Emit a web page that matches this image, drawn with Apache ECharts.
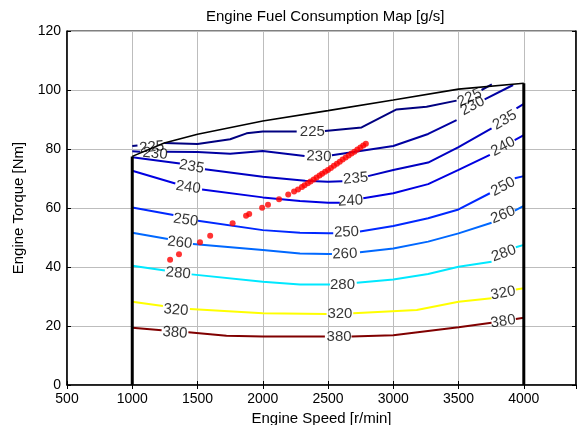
<!DOCTYPE html>
<html lang="en">
<head>
    <meta charset="UTF-8">
    <title>Engine Fuel Consumption Map</title>
    <script src="https://cdn.jsdelivr.net/npm/echarts@6/dist/echarts.min.js"></script>
</head>
<body style="margin:0">
<div id="mybox" style="width:579px;height:425px;"></div>
<script>
    // speed ticks and torque ticks
    var speedTicks = [500, 1000, 1500, 2000, 2500, 3000, 3500, 4000];
    var torqueTicks = [0, 20, 40, 60, 80, 100, 120];

    // contour levels and their jet colours
    var levels = [225, 230, 235, 240, 250, 260, 280, 320, 380];
    var levelColors = ['#000080', '#0000a1', '#0000c2', '#0000e2', '#0028ff', '#0068ff', '#00e8ff', '#ffff00', '#800000'];

    // contour lines, [speed, torque], null = gap where the label sits
    var c225 = [[1000, 81], [1040, 81.2], null, [1245, 82], [1500, 81.7], [1750, 83.3], [1876, 85.3], [2000, 85.9], [2260, 85.9], null,
        [2476, 86.1], [2757, 87.3], [3025, 93.4], [3255, 94.3], [3485, 96.4], null, [3676, 100], [3755, 101.9]];
    var c230 = [[1000, 79.2], [1060, 79.1], null, [1265, 79.1], [1500, 79], [1750, 78.4], [2000, 79.3], [2320, 77.6], null,
        [2530, 77.9], [3000, 81], [3267, 85.1], [3485, 89.8], null, [3700, 96.8], [3918, 101.7]];
    var c235 = [[1000, 77.2], [1365, 75.1], null, [1557, 73.1], [2000, 70.6], [2325, 69.2], [2500, 68.9], [2610, 69.1], null,
        [2807, 70.8], [3000, 72.9], [3267, 75.4], [3500, 80.6], [3753, 87], null, [3944, 93.8], [4000, 95.3]];
    var c240 = [[1000, 72.6], [1330, 68.3], null, [1535, 66.3], [2000, 63.6], [2285, 62.4], [2500, 61.8], [2590, 61.8], null,
        [2770, 63.3], [3000, 65], [3267, 68.1], [3500, 72.9], [3740, 78], null, [3930, 83], [4000, 84.7]];
    var c250 = [[1000, 60.2], [1315, 57.6], null, [1503, 55.7], [2000, 52.5], [2285, 51.6], [2500, 51.4], [2540, 51.4], null,
        [2745, 52], [3000, 53.9], [3267, 56.5], [3500, 59.5], [3740, 65], null, [3931, 70.1], [4000, 70.8]];
    var c260 = [[1000, 51.6], [1273, 49.5], null, [1465, 47.8], [2000, 45.8], [2285, 44.6], [2500, 44.4], [2530, 44.4], null,
        [2745, 45], [3000, 46.3], [3267, 48.6], [3500, 51.4], [3753, 55], null, [3931, 59.1], [4000, 60.7]];
    var c280 = [[1000, 40.4], [1250, 38.8], null, [1455, 37.5], [2000, 35], [2285, 34.1], [2515, 34.1], null,
        [2720, 34.7], [3000, 35.8], [3267, 37.6], [3500, 40.1], [3753, 41.8], null, [3939, 46.7], [4000, 47.5]];
    var c320 = [[1000, 28.2], [1235, 26.8], null, [1442, 25.8], [2000, 24.3], [2489, 24.1], null,
        [2693, 24.3], [3180, 25.4], [3500, 28.2], [3753, 29.4], null, [3939, 32.4], [4000, 32.8]];
    var c380 = [[1000, 19.4], [1225, 18.6], null, [1430, 17.9], [1722, 16.7], [2000, 16.4], [2476, 16.4], null,
        [2680, 16.4], [3000, 16.9], [3500, 19.6], [3753, 21.1], null, [3939, 22.4], [4000, 22.8]];
    var contours = [c225, c230, c235, c240, c250, c260, c280, c320, c380];

    // inline labels: [speed, torque, level, angle]
    var contourLabels = [
        [1150, 80.6, 225, 5], [2380, 85.9, 225, 0], [3585, 97.4, 225, 25],
        [1175, 78.4, 230, -5], [2430, 77.4, 230, -2], [3607, 94.6, 230, 28],
        [1455, 74, 235, -10], [2712, 70, 235, 5], [3854, 89.8, 235, 30],
        [1429, 67, 240, -8], [2673, 62.4, 240, 3], [3842, 80.8, 240, 28],
        [1409, 55.9, 250, -8], [2642, 51.8, 250, 2], [3842, 67.2, 250, 28],
        [1365, 48.2, 260, -6], [2629, 44.4, 260, 2], [3842, 57.6, 260, 22],
        [1352, 37.9, 280, -5], [2611, 33.9, 280, 0], [3847, 44.6, 280, 20],
        [1335, 25.4, 320, -4], [2591, 24.1, 320, 0], [3842, 31.1, 320, 10],
        [1327, 17.7, 380, -4], [2585, 16.4, 380, 0], [3842, 21.5, 380, 8]
    ];

    // max torque curve and speed limits
    var maxTorque = [[1000, 77.5], [1245, 82], [1500, 85], [2000, 89.5], [2500, 93], [3000, 96.6], [3500, 100.3], [4000, 102.3]];
    var lowLimit = [[1000, 0], [1000, 77.5]];
    var highLimit = [[4000, 0], [4000, 102.3]];

    // operating points
    var points = [[1290, 42.5], [1358, 44.3], [1519, 48.4], [1597, 50.6], [1769, 54.8], [1872, 57.4], [1896, 58], [1995, 60.1],
        [2040, 61.1], [2125, 63], [2195, 64.6], [2240, 65.6], [2270, 66.3], [2300, 67.1], [2320, 67.7], [2345, 68.4],
        [2366, 69], [2390, 69.7], [2412, 70.3], [2435, 71], [2455, 71.6], [2478, 72.3], [2500, 72.9], [2522, 73.6],
        [2545, 74.3], [2568, 75], [2590, 75.7], [2612, 76.4], [2635, 77.1], [2658, 77.8], [2680, 78.5], [2702, 79.1],
        [2725, 79.8], [2748, 80.5], [2770, 81.2], [2790, 81.8]];

    var font = 'Liberation Sans, Arial, sans-serif';
    var mychart = echarts.init(document.getElementById('mybox'));

    var series = [];
    contours.forEach(function (c, i) {
        series.push({
            type: 'line',
            data: c.map(function (p) { return p ? p : ['-', '-']; }),
            symbol: 'none',
            connectNulls: false,
            lineStyle: {color: levelColors[i], width: 2},
            silent: true,
            z: 3
        });
    });
    series.push({type: 'line', data: maxTorque, symbol: 'none', lineStyle: {color: '#000', width: 1.6}, silent: true, z: 4});
    series.push({type: 'line', data: lowLimit, symbol: 'none', lineStyle: {color: '#000', width: 3}, silent: true, z: 4});
    series.push({type: 'line', data: highLimit, symbol: 'none', lineStyle: {color: '#000', width: 3}, silent: true, z: 4});
    series.push({
        type: 'scatter',
        data: contourLabels.map(function (l) {
            return {value: [l[0], l[1], l[2]], label: {rotate: l[3]}};
        }),
        symbolSize: 1,
        itemStyle: {color: 'transparent'},
        label: {
            show: true, position: 'inside', color: '#000', fontSize: 15, fontFamily: font,
            formatter: function (p) { return p.value[2]; }
        },
        silent: true,
        z: 5
    });
    series.push({
        type: 'scatter',
        data: points,
        symbolSize: 6,
        itemStyle: {color: '#ff0000'},
        silent: true,
        z: 6
    });

    var tickLabelStyle = {color: '#000', fontSize: 14, fontFamily: font};
    var nameStyle = {color: '#000', fontSize: 15, fontFamily: font};
    mychart.setOption({
        animation: false,
        title: {
            text: 'Engine Fuel Consumption Map [g/s]',
            left: 201, top: 4, padding: 5,
            textStyle: {color: '#000', fontSize: 15, fontWeight: 'normal', fontFamily: font}
        },
        grid: {left: 67, right: 3, top: 31, bottom: 40, show: true, borderColor: '#000', borderWidth: 1,
            outerBoundsMode: 'none', containLabel: false},
        xAxis: [{
            type: 'value', min: speedTicks[0], max: 4400, interval: 500,
            name: 'Engine Speed [r/min]', nameLocation: 'middle', nameGap: 19,
            nameTextStyle: nameStyle,
            axisLine: {lineStyle: {color: '#000', width: 1.5}},
            axisTick: {inside: true, length: 4, lineStyle: {color: '#000'}},
            axisLabel: Object.assign({margin: 7, showMaxLabel: false,
                formatter: function (v) { return String(v); }}, tickLabelStyle),
            splitLine: {show: true, lineStyle: {color: '#bdbdbd', width: 1}}
        }, {
            type: 'value', position: 'top', min: speedTicks[0], max: 4400, interval: 500,
            axisLine: {show: false},
            axisTick: {inside: true, length: 4, lineStyle: {color: '#000'}},
            axisLabel: {show: false},
            splitLine: {show: false}
        }],
        yAxis: [{
            type: 'value', min: torqueTicks[0], max: torqueTicks[torqueTicks.length - 1], interval: 20,
            name: 'Engine Torque [Nm]', nameLocation: 'middle', nameGap: 40,
            nameTextStyle: nameStyle,
            axisLine: {show: true, lineStyle: {color: '#000', width: 1.5}},
            axisTick: {show: true, inside: true, length: 4, lineStyle: {color: '#000'}},
            axisLabel: Object.assign({margin: 6}, tickLabelStyle),
            splitLine: {show: true, lineStyle: {color: '#bdbdbd', width: 1}}
        }, {
            type: 'value', position: 'right', min: 0, max: 120, interval: 20,
            axisLine: {show: true, lineStyle: {color: '#000', width: 1.5}},
            axisTick: {show: true, inside: true, length: 4, lineStyle: {color: '#000'}},
            axisLabel: {show: false},
            splitLine: {show: false}
        }],
        series: series
    });
</script>
</body>
</html>
